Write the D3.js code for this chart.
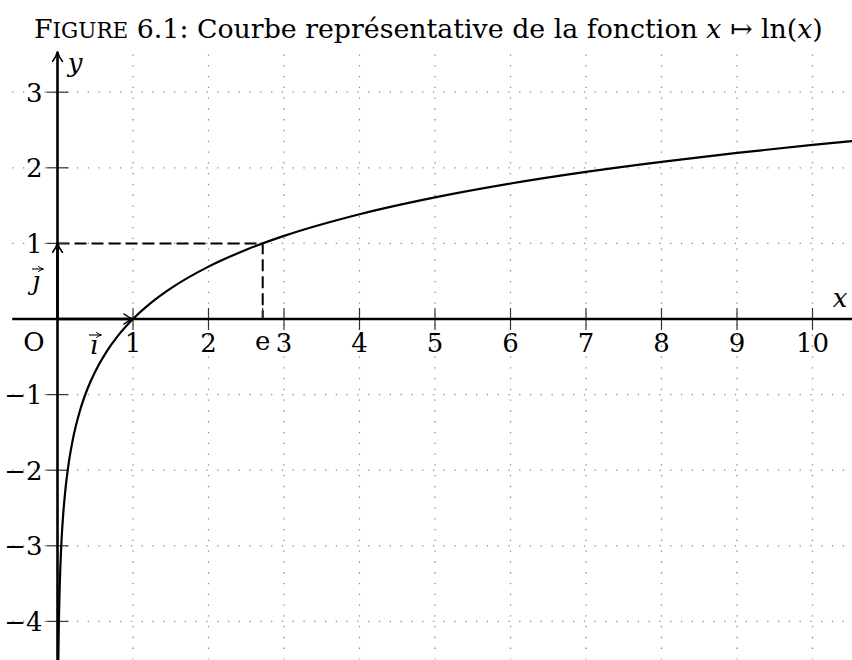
<!DOCTYPE html>
<html>
<head>
<meta charset="utf-8">
<script src="https://cdn.jsdelivr.net/npm/d3@7"></script>
<style>
    body { margin: 0; background: #fff; }
    text { font-family: "DejaVu Serif", "Liberation Serif", serif; fill: #000; }
</style>
</head>
<body>
<script>
window.onload = main;

const svgWidth = 852;
const svgHeight = 660;

// points of the curve y = ln(x)
const curveX = [0.011, 0.015, 0.02, 0.03, 0.05, 0.075, 0.1, 0.15, 0.2, 0.3, 0.4, 0.5, 0.65, 0.8,
    1, 1.25, 1.5, 2, 2.5, 3, 4, 5, 6, 7, 8, 9, 10, 10.55];
const curveY = [-4.51, -4.2, -3.912, -3.507, -2.996, -2.59, -2.303, -1.897, -1.609, -1.204, -0.916, -0.693, -0.431, -0.223,
    0, 0.223, 0.405, 0.693, 0.916, 1.099, 1.386, 1.609, 1.792, 1.946, 2.079, 2.197, 2.303, 2.356];

const xTicks = [1, 2, 3, 4, 5, 6, 7, 8, 9, 10];
const yTicks = [-4, -3, -2, -1, 1, 2, 3];
const eValue = 2.718;

// window of the grid / axes (in units)
const xMin = -0.6, xMax = 10.5;
const yMin = -4.5, yMax = 3.5;

function main() {
    const svg = d3.select("body")
        .append("svg")
        .attr("width", svgWidth)
        .attr("height", svgHeight);

    const scaleX = d3.scaleLinear().domain([0, 10]).range([57.5, 812.5]);
    const scaleY = d3.scaleLinear().domain([0, 3]).range([319, 92.2]);
    const unitX = scaleX(1) - scaleX(0);

    //region title
    const title = svg.append("text")
        .attr("x", 34)
        .attr("y", 38)
        .attr("font-size", 26.8);
    title.append("tspan").text("F");
    title.append("tspan").attr("font-size", 21.5).text("IGURE");
    title.append("tspan").text(" 6.1: Courbe représentative de la fonction ");
    title.append("tspan").attr("font-style", "italic").text("x");
    title.append("tspan").text(" \u21A6 ln(");
    title.append("tspan").attr("font-style", "italic").text("x");
    title.append("tspan").text(")");
    //endregion

    //region grid
    const grid = svg.append("g").classed("grid", true)
        .attr("stroke", "#888")
        .attr("stroke-width", 1.3)
        .attr("stroke-dasharray", `1.3 ${unitX / 7 - 1.3}`);

    grid.selectAll(null)
        .data(xTicks)
        .join("line")
        .attr("x1", d => scaleX(d)).attr("x2", d => scaleX(d))
        .attr("y1", scaleY(yMax)).attr("y2", scaleY(yMin));

    grid.selectAll(null)
        .data(yTicks)
        .join("line")
        .attr("x1", scaleX(xMin)).attr("x2", scaleX(xMax))
        .attr("y1", d => scaleY(d)).attr("y2", d => scaleY(d));
    //endregion

    //region dashed lines for e
    svg.append("path")
        .attr("d", `M${scaleX(0)},${scaleY(1)} H${scaleX(eValue)} V${scaleY(0)}`)
        .attr("fill", "none")
        .attr("stroke", "#000")
        .attr("stroke-width", 2)
        .attr("stroke-dasharray", "12 5");
    //endregion

    //region ticks
    const ticks = svg.append("g").attr("stroke", "#333").attr("stroke-width", 1.2);
    ticks.selectAll(null)
        .data(xTicks)
        .join("line")
        .attr("x1", d => scaleX(d)).attr("x2", d => scaleX(d))
        .attr("y1", scaleY(0) - 11).attr("y2", scaleY(0) + 11);
    ticks.append("line")
        .attr("x1", scaleX(eValue)).attr("x2", scaleX(eValue))
        .attr("y1", scaleY(0) - 11).attr("y2", scaleY(0));
    ticks.selectAll(null)
        .data(yTicks)
        .join("line")
        .attr("x1", scaleX(0) - 11).attr("x2", scaleX(0) + 11)
        .attr("y1", d => scaleY(d)).attr("y2", d => scaleY(d));
    //endregion

    //region arrow markers
    const defs = svg.append("defs");
    const addMarker = (id, size, width) => defs.append("marker")
        .attr("id", id)
        .attr("viewBox", "-10 -6 12 12")
        .attr("refX", 0).attr("refY", 0)
        .attr("markerWidth", size).attr("markerHeight", size)
        .attr("markerUnits", "userSpaceOnUse")
        .attr("orient", "auto")
        .append("path")
        .attr("d", "M-9,-5 Q-4,-1 1,0 Q-4,1 -9,5")
        .attr("fill", "none")
        .attr("stroke", "#000")
        .attr("stroke-width", width)
        .attr("stroke-linecap", "round");
    addMarker("arrow", 12, 1.6);
    addMarker("arrow-small", 6, 2);
    //endregion

    //region axes
    svg.append("line")
        .attr("x1", scaleX(xMin)).attr("x2", scaleX(xMax) + 12)
        .attr("y1", scaleY(0)).attr("y2", scaleY(0))
        .attr("stroke", "#000").attr("stroke-width", 2.6)
        .attr("marker-end", "url(#arrow)");
    svg.append("line")
        .attr("x1", scaleX(0)).attr("x2", scaleX(0))
        .attr("y1", scaleY(yMin) + 10).attr("y2", scaleY(yMax) - 2)
        .attr("stroke", "#000").attr("stroke-width", 2.6)
        .attr("marker-end", "url(#arrow)");

    // unit vectors i and j
    svg.append("line")
        .attr("x1", scaleX(0)).attr("x2", scaleX(1))
        .attr("y1", scaleY(0)).attr("y2", scaleY(0))
        .attr("stroke", "#000").attr("stroke-width", 2.6)
        .attr("marker-end", "url(#arrow)");
    svg.append("line")
        .attr("x1", scaleX(0)).attr("x2", scaleX(0))
        .attr("y1", scaleY(0)).attr("y2", scaleY(1))
        .attr("stroke", "#000").attr("stroke-width", 2.6)
        .attr("marker-end", "url(#arrow)");
    //endregion

    //region curve
    const points = curveX.map((x, i) => [x, curveY[i]]);
    svg.append("path")
        .datum(points)
        .attr("d", d3.line()
            .x(d => scaleX(d[0]))
            .y(d => scaleY(d[1]))
            .curve(d3.curveMonotoneX))
        .attr("fill", "none")
        .attr("stroke", "#000")
        .attr("stroke-width", 2.2);
    //endregion

    //region labels
    const labels = svg.append("g").attr("font-size", 26);
    labels.selectAll(null)
        .data(xTicks)
        .join("text")
        .attr("x", d => scaleX(d))
        .attr("y", 352)
        .attr("text-anchor", "middle")
        .text(d => d);
    labels.append("text")
        .attr("x", scaleX(eValue))
        .attr("y", 350)
        .attr("text-anchor", "middle")
        .text("e");
    labels.selectAll(null)
        .data(yTicks)
        .join("text")
        .attr("x", scaleX(0) - 15)
        .attr("y", d => scaleY(d))
        .attr("dy", "0.36em")
        .attr("text-anchor", "end")
        .text(d => d < 0 ? "\u2212" + Math.abs(d) : d);
    labels.append("text")
        .attr("x", 34).attr("y", 351)
        .attr("text-anchor", "middle")
        .text("O");
    labels.append("text")
        .attr("x", 840).attr("y", 307)
        .attr("text-anchor", "middle")
        .attr("font-style", "italic")
        .text("x");
    labels.append("text")
        .attr("x", 75).attr("y", 72)
        .attr("text-anchor", "middle")
        .attr("font-style", "italic")
        .text("y");

    // vector labels with small arrows above
    labels.append("text")
        .attr("x", 94).attr("y", 354)
        .attr("text-anchor", "middle")
        .attr("font-style", "italic")
        .text("\u0131");
    labels.append("text")
        .attr("x", 36).attr("y", 290)
        .attr("text-anchor", "middle")
        .attr("font-style", "italic")
        .text("\u0237");
    const vecArrows = [[89, 101, 335], [32, 43, 269]];
    svg.append("g").selectAll(null)
        .data(vecArrows)
        .join("line")
        .attr("x1", d => d[0]).attr("x2", d => d[1])
        .attr("y1", d => d[2]).attr("y2", d => d[2])
        .attr("stroke", "#000").attr("stroke-width", 1.1)
        .attr("marker-end", "url(#arrow-small)");
    //endregion
}
</script>
</body>
</html>
